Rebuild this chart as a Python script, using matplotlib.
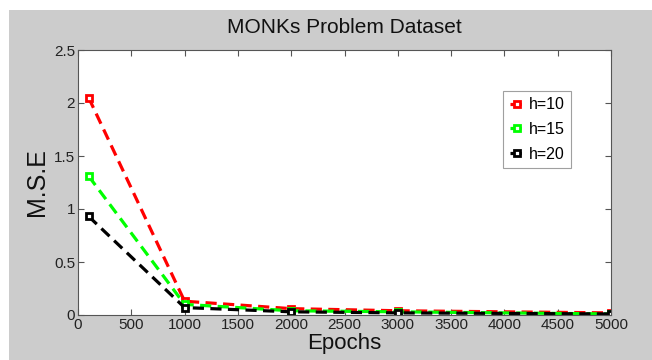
import matplotlib
matplotlib.use("Agg")
import matplotlib.pyplot as plt
from matplotlib.patches import Rectangle

plt.rcParams['font.family'] = ['Liberation Sans', 'DejaVu Sans']

epochs = [100, 1000, 2000, 3000, 5000]
mse_h10 = [2.05, 0.13, 0.06, 0.04, 0.02]
mse_h15 = [1.31, 0.10, 0.04, 0.03, 0.01]
mse_h20 = [0.93, 0.07, 0.03, 0.02, 0.01]
labels = ['h=10', 'h=15', 'h=20']
colors = ['#ff0000', '#00ff00', '#000000']
xticks = list(range(0, 5001, 500))
yticks = [0, 0.5, 1, 1.5, 2, 2.5]

W, H = 652, 360
fig = plt.figure(figsize=(W / 100, H / 100), dpi=100)
fig.patch.set_facecolor('white')
fig.patches.append(Rectangle((9 / W, 0), 1 - 9 / W, (H - 10) / H,
                             transform=fig.transFigure, facecolor='#cccccc',
                             edgecolor='none', zorder=-10))

ax = fig.add_axes([78 / W, (H - 315) / H, (611 - 78) / W, (315 - 50) / H])
ax.set_facecolor('white')

for ys, lab, c in zip([mse_h10, mse_h15, mse_h20], labels, colors):
    ax.plot(epochs, ys, linestyle=(0, (3.5, 2)), color=c, linewidth=2.3,
            marker='s', markersize=5, markerfacecolor='white',
            markeredgecolor=c, markeredgewidth=2, label=lab)

ax.set_xlim(0, 5000)
ax.set_ylim(0, 2.5)
ax.set_xticks(xticks)
ax.set_yticks(yticks)
ax.set_yticklabels(['0', '0.5', '1', '1.5', '2', '2.5'])
ax.tick_params(direction='in', top=True, right=True, length=4, width=0.8,
               colors='#555555', labelcolor='#222222', labelsize=11, pad=2)
for s in ax.spines.values():
    s.set_color('#555555')
    s.set_linewidth(0.8)

ax.set_title('MONKs Problem Dataset', fontsize=15, color='#111111', pad=12)
ax.set_xlabel('Epochs', fontsize=16, color='#111111', labelpad=1)
ax.set_ylabel('M.S.E', fontsize=18, color='#111111', labelpad=4)

leg = ax.legend(loc='upper right', bbox_to_anchor=(0.925, 0.845),
                borderaxespad=0, fontsize=11.5,
                frameon=True, fancybox=False, handlelength=0.9,
                handletextpad=0.3, borderpad=0.4, labelspacing=0.6)
leg.get_frame().set_edgecolor('#888888')
leg.get_frame().set_linewidth(0.8)

fig.savefig('out.png', dpi=100)
